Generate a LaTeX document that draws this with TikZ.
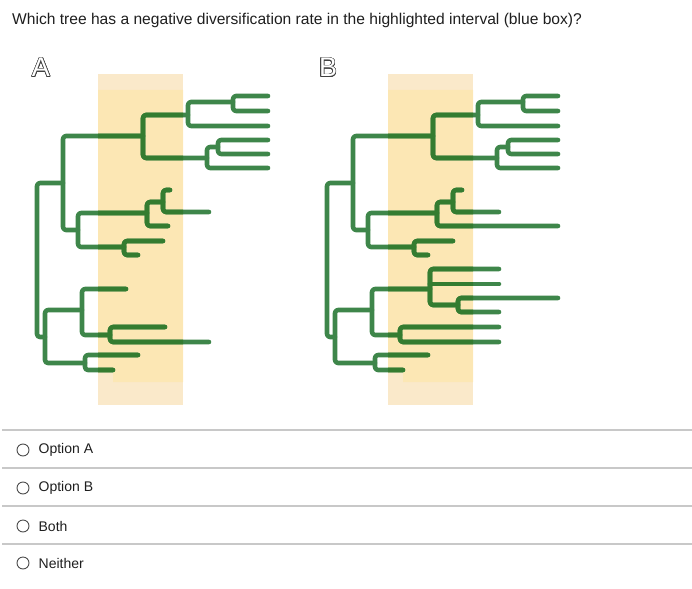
\documentclass[tikz,border=0pt]{standalone}
\usepackage{fontspec}
\setmainfont{Liberation Sans}
\usepackage[copies]{contour}
\contourlength{0.7pt}
\usetikzlibrary{positioning}

\definecolor{treegreen}{RGB}{62,134,74}
\definecolor{treedeep}{RGB}{52,124,48}
\definecolor{bandpale}{RGB}{250,233,202}
\definecolor{bandmid}{RGB}{252,231,180}
\definecolor{rulegray}{RGB}{200,200,200}
\definecolor{textdark}{RGB}{30,30,30}

% one bifurcation: node x, upper y, lower y, upper tip x, lower tip x
\newcommand{\fork}[5]{\draw[branch] (#4,#2) -- (#1,#2) -- (#1,#3) -- (#5,#3);}
\newcommand{\hollow}[1]{\contour{black!75}{\textcolor{white}{#1}}}

% the two trees
\newcommand{\treeA}{%
  \fork{37}{183}{337}{63}{45}
  \fork{63}{136}{230}{143}{78}
  \fork{143}{115}{158}{188}{207}
  \fork{188}{102}{126}{233}{268}
  \fork{233}{96}{111}{268}{268}
  \fork{207}{147}{168}{218}{268}
  \fork{218}{140}{154}{268}{268}
  \fork{78}{213}{247}{147}{124}
  \fork{147}{202}{226}{163}{168}
  \fork{163}{190}{212}{170}{209}
  \fork{124}{241}{255}{163}{138}
  \fork{45}{310}{363}{82}{85}
  \fork{82}{289}{335}{126}{110}
  \fork{110}{327}{342}{165}{209}
  \fork{85}{355}{370}{138}{113}}
\newcommand{\treeB}{%
  \fork{37}{183}{337}{63}{45}
  \fork{63}{136}{230}{143}{78}
  \fork{143}{115}{158}{188}{207}
  \fork{188}{102}{126}{233}{268}
  \fork{233}{96}{111}{268}{268}
  \fork{207}{147}{168}{218}{268}
  \fork{218}{140}{154}{268}{268}
  \fork{78}{213}{247}{147}{124}
  \fork{147}{202}{226}{163}{268}
  \fork{163}{190}{212}{172}{209}
  \fork{124}{241}{255}{163}{138}
  \fork{45}{310}{363}{82}{85}
  \fork{82}{289}{335}{140}{110}
  \fork{140}{269}{305}{209}{168}
  \draw[branch] (140,284) -- (209,284);
  \fork{168}{298}{312}{268}{209}
  \fork{110}{327}{342}{209}{209}
  \fork{85}{355}{370}{138}{113}}

\begin{document}
\begin{tikzpicture}[x=1pt,y=-1pt,
    branch/.style={draw=treegreen, line width=4.6pt, rounded corners=3pt, line cap=round, line join=round},
    qtext/.style={anchor=west, inner sep=0pt, font=\fontsize{15.6}{18}\selectfont, text=textdark},
    treelabel/.style={inner sep=0pt, font=\fontsize{27}{30}\selectfont},
    radio/.style={draw=black!70, line width=0.9pt, circle, minimum size=12pt, inner sep=0pt},
    opt/.style={anchor=west, inner sep=0pt, font=\fontsize{14}{16}\selectfont, text=textdark},
    sep/.style={draw=rulegray, line width=1.3pt}
  ]
  \useasboundingbox (0,0) rectangle (692,588);

  \node[qtext] (question) at (12,20) {Which tree has a negative diversification rate in the highlighted interval (blue box)?};

  \node[treelabel] (lblA) at (41,68) {\hollow{A}};
  \node[treelabel] (lblB) at (328,68) {\hollow{B}};

  % highlighted intervals
  \foreach \dx in {0,290} {
    \fill[bandpale] (98+\dx,74) rectangle (183+\dx,405);
    \fill[bandmid] (98+\dx,90) -- (183+\dx,90) -- (183+\dx,382) -- (113+\dx,382) -- (113+\dx,372) -- (98+\dx,372) -- cycle;
  }

  % tree A, deeper green inside the band
  \treeA
  \begin{scope}
    \clip (98,74) rectangle (183,405);
    \tikzset{branch/.append style={draw=treedeep}}
    \treeA
  \end{scope}

  % tree B
  \begin{scope}[xshift=290pt]
    \treeB
    \begin{scope}
      \clip (98,74) rectangle (183,405);
      \tikzset{branch/.append style={draw=treedeep}}
      \treeB
    \end{scope}
  \end{scope}

  % answer options
  \coordinate (r0w) at (2,430);  \coordinate (r0e) at (692,430);
  \coordinate (r1w) at (2,468);  \coordinate (r1e) at (692,468);
  \coordinate (r2w) at (2,506);  \coordinate (r2e) at (692,506);
  \coordinate (r3w) at (2,544);  \coordinate (r3e) at (692,544);
  \draw[sep] (r0w) -- (r0e);
  \draw[sep] (r1w) -- (r1e);
  \draw[sep] (r2w) -- (r2e);
  \draw[sep] (r3w) -- (r3e);

  \node[radio] (radA) at (23,450) {};
  \node[radio] (radB) at (23,488) {};
  \node[radio] (radBoth) at (23,526) {};
  \node[radio] (radNone) at (23,563) {};
  \node[opt, right=9pt of radA] (optA) {Option A};
  \node[opt, right=9pt of radB] (optB) {Option B};
  \node[opt, right=9pt of radBoth] (optBoth) {Both};
  \node[opt, right=9pt of radNone] (optNone) {Neither};
\end{tikzpicture}
\end{document}
